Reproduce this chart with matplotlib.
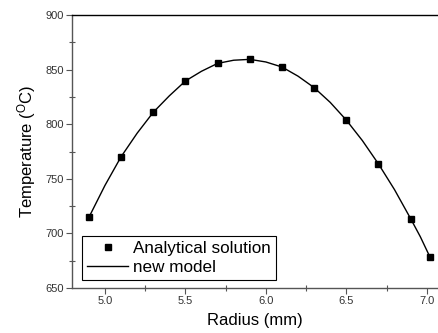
import matplotlib
matplotlib.use("Agg")
import matplotlib.pyplot as plt
from matplotlib.ticker import MultipleLocator

plt.rcParams['font.family'] = ['Liberation Sans', 'DejaVu Sans']

# analytical points
radius = [4.9, 5.1, 5.3, 5.5, 5.7, 5.9, 6.1, 6.3, 6.5, 6.7, 6.9, 7.02]
temp_analytical = [714.7, 770.2, 810.9, 839.6, 855.7, 859.4, 852.4, 833.5, 803.8, 763.6, 713.5, 678.4]

# model curve (points + midpoints)
radius_model = [4.9, 5.0, 5.1, 5.2, 5.3, 5.4, 5.5, 5.6, 5.7, 5.8, 5.9, 6.0,
                6.1, 6.2, 6.3, 6.4, 6.5, 6.6, 6.7, 6.8, 6.9, 6.96, 7.02]
temp_model = [714.7, 744.0, 770.2, 791.8, 810.9, 826.0, 839.6, 848.5, 855.7, 858.6, 859.4, 857.0,
              852.4, 844.0, 833.5, 820.0, 803.8, 785.0, 763.6, 740.0, 713.5, 697.0, 678.4]

fig = plt.figure(figsize=(4.38, 3.33), dpi=100)
ax = fig.add_axes([0.1644, 0.1351, 0.8356, 0.8198])

ax.plot(radius, temp_analytical, 's', color='black', ms=4.6, label='Analytical solution')
ax.plot(radius_model, temp_model, '-', color='black', lw=1.0, label='new model')

ax.set_xlim(4.795, 7.07)
ax.set_ylim(650, 900)
ax.xaxis.set_major_locator(MultipleLocator(0.5))
ax.xaxis.set_minor_locator(MultipleLocator(0.25))
ax.yaxis.set_major_locator(MultipleLocator(50))
ax.yaxis.set_minor_locator(MultipleLocator(25))
ax.xaxis.set_major_formatter(plt.FormatStrFormatter('%.1f'))

ax.spines['right'].set_visible(False)
ax.spines['top'].set_color('black')
ax.spines['left'].set_color('#555555')
ax.spines['bottom'].set_color('#555555')
for s in ['left', 'bottom', 'top']:
    ax.spines[s].set_linewidth(1.0)

ax.tick_params(which='major', direction='out', length=4, width=0.8, color='#555555',
               labelsize=8, labelcolor='#333333', pad=2)
ax.tick_params(which='minor', direction='inout', length=4, width=0.8, color='#555555')

ax.set_xlabel('Radius (mm)', fontsize=12, labelpad=5)
ax.set_ylabel('Temperature ($\\mathregular{^{O}}$C)', fontsize=12, labelpad=5)

leg = ax.legend(loc='lower left', bbox_to_anchor=(0.027, 0.028), fontsize=12.3,
                frameon=True, fancybox=False, edgecolor='black', framealpha=1,
                borderpad=0.3, handlelength=2.4, handletextpad=0.3, labelspacing=0.25,
                borderaxespad=0)
leg.get_frame().set_linewidth(0.8)

fig.savefig('out.png', dpi=100)
